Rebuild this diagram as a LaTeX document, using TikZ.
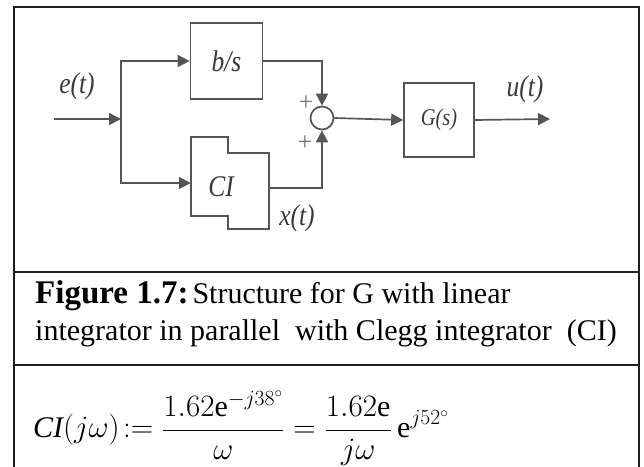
\documentclass[tikz,border=0pt]{standalone}
\usepackage{fontspec}
\setmainfont{Liberation Serif}
\newfontfamily\diagfont[FakeStretch=0.85]{Liberation Serif}
\usepackage{tikz}
\usetikzlibrary{arrows.meta,positioning,calc}
\definecolor{cnline}{HTML}{555555}
\definecolor{cntext}{HTML}{3A3A3A}
\definecolor{cnframe}{HTML}{1E1E1E}

\begin{document}
\begin{tikzpicture}[
  x=1pt, y=-1pt,
  box/.style={draw=cnline, line width=1.7pt, minimum width=72pt, minimum height=76pt,
    inner sep=0pt, font=\diagfont\itshape\fontsize{30}{30}\selectfont, text=cntext},
  sumnode/.style={circle, draw=cnline, line width=1.7pt, minimum size=23pt, inner sep=0pt},
  arrow/.style={-{Triangle[length=12pt,width=12pt]}, line width=1.7pt, cnline},
  sig/.style={font=\diagfont\itshape\fontsize{30}{30}\selectfont, text=cntext, inner sep=0pt},
  sgn/.style={font=\fontsize{26}{26}\selectfont, text=cnline!80, inner sep=0pt},
  frame/.style={draw=cnframe, line width=1.8pt}
]
  \useasboundingbox (0,0) rectangle (644,466);

  % --- Frame ---
  \draw[frame] (14,7) rectangle (639,480);
  \draw[frame] (14,272) -- (639,272);
  \draw[frame] (14,365) -- (639,365);

  % --- Blocks ---
  \coordinate (in) at (54,119);
  \coordinate (jn) at (121,119);
  \node[box] (bs) at (226.5,61) {b/s};
  \node[minimum width=78pt, minimum height=92pt, inner sep=0pt] (ci) at (230,183) {};
  \node[sig] (citext) at (221,187) {CI};
  \node[sumnode] (sum) at (322,118) {};
  \node[box, minimum width=70pt, minimum height=74pt, font=\diagfont\itshape\fontsize{24}{24}\selectfont]
    (g) at (439,120) {G(s)};
  \coordinate (out) at (550,119);

  % notched Clegg integrator outline
  \draw[cnline, line width=1.7pt]
    (ci.north west) -- ([xshift=37pt]ci.north west) -- ([shift={(37,16)}]ci.north west)
    -- ([yshift=-16pt]ci.north east) -- (ci.south east) -- ([xshift=-41pt]ci.south east)
    -- ([shift={(-41,-13)}]ci.south east) -- ([yshift=13pt]ci.south west) -- cycle;

  % --- Signal labels ---
  \node[sig] (elab) at (77,86) {e(t)};
  \node[sig] (ulab) at (525,89) {u(t)};
  \node[sig] (xlab) at (297,218) {x(t)};
  \node[sgn] (p1) at (306,103) {+};
  \node[sgn] (p2) at (305,143) {+};

  % --- Connectors ---
  \draw[arrow] (in) -- (jn);
  \draw[arrow] (jn) |- (bs.west);
  \draw[arrow] (jn) |- (ci.west);
  \draw[arrow] (bs.east) -| (sum.north);
  \draw[arrow] ([yshift=-5pt]ci.east) -| (sum.south);
  \draw[arrow] (sum.east) -- (g.west);
  \draw[arrow] (g.east) -- (out);

  % --- Caption ---
  \node[anchor=base west, inner sep=0pt, font=\fontsize{30}{37}\selectfont] (capA) at (35,303)
    {{\bfseries\fontsize{33}{37}\selectfont Figure 1.7:}\hspace{4pt}\makebox[318pt][s]{Structure for G with linear}};
  \node[anchor=base west, inner sep=0pt, font=\fontsize{30}{37}\selectfont] (capB) at (35,340)
    {integrator in parallel\ \ with Clegg integrator\ \ (CI)};

  % --- Formula ---
  \node[anchor=west, inner sep=0pt, font=\fontsize{24}{28}\selectfont] (eq) at (33,428)
    {\scalebox{1.25}{$\displaystyle \mathit{CI}(j\omega)\!:=\frac{1.62\mathrm{e}^{-j38^\circ}}{\omega}
      =\frac{1.62\mathrm{e}}{j\omega}\,\mathrm{e}^{j52^\circ}$}};
\end{tikzpicture}
\end{document}
